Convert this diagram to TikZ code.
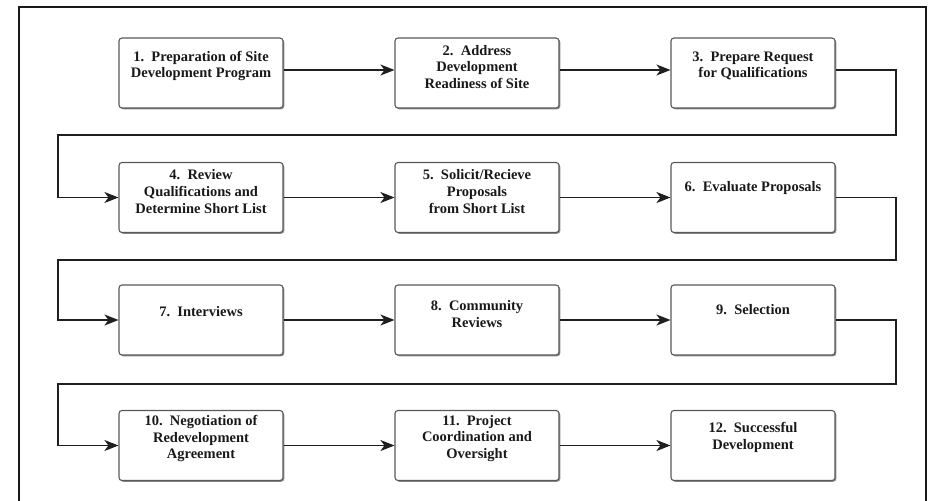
\documentclass[tikz,border=0pt]{standalone}
\usepackage{fontspec}
\setmainfont{Liberation Serif}
\usetikzlibrary{arrows.meta,shadows,calc}
\begin{document}
\begin{tikzpicture}[x=1pt,y=-1pt,
  stepbox/.style={draw=black!65, line width=1.1pt, rounded corners=3pt, fill=white,
    minimum width=164pt, minimum height=70pt, inner sep=0pt,
    drop shadow={shadow xshift=1.3pt, shadow yshift=-1.3pt, opacity=0.45, fill=black}},
  steptext/.style={font=\bfseries\fontsize{14.5}{16.7}\selectfont, align=center,
    inner sep=0pt, text=black!90},
  link/.style={draw=black!88, line width=1.9pt, line join=miter},
  flow/.style={link, -{Stealth[length=14pt,width=11pt,inset=4pt]}},
  frame/.style={draw=black!90, line width=2pt}]
\useasboundingbox (0,0) rectangle (933,500);
\draw[frame] (19,501) -- (19,7) -- (926,7) -- (926,501);

% boxes
\node[stepbox] (b1)  at (201,73)    {};
\node[stepbox] (b2)  at (477,73)    {};
\node[stepbox] (b3)  at (753,73)    {};
\node[stepbox] (b4)  at (201,197.5) {};
\node[stepbox] (b5)  at (477,197.5) {};
\node[stepbox] (b6)  at (753,197.5) {};
\node[stepbox] (b7)  at (201,320)   {};
\node[stepbox] (b8)  at (477,320)   {};
\node[stepbox] (b9)  at (753,320)   {};
\node[stepbox] (b10) at (201,445.5) {};
\node[stepbox] (b11) at (477,445.5) {};
\node[stepbox] (b12) at (753,445.5) {};

% texts
\node[steptext] (t1)  at ([yshift=7pt]b1.center)  {1.\ \ Preparation of Site\\Development Program};
\node[steptext] (t2)  at ([yshift=6pt]b2.center)  {2.\ \ Address\\Development\\Readiness of Site};
\node[steptext] (t3)  at ([yshift=7pt]b3.center)  {3.\ \ Prepare Request\\for Qualifications};
\node[steptext] (t4)  at ([yshift=6pt]b4.center)  {4.\ \ Review\\Qualifications and\\Determine Short List};
\node[steptext] (t5)  at ([yshift=6pt]b5.center)  {5.\ \ Solicit/Recieve\\Proposals\\from Short List};
\node[steptext] (t6)  at ([yshift=9pt]b6.center)  {6.\ \ Evaluate Proposals};
\node[steptext] (t7)  at ([yshift=8pt]b7.center)  {7.\ \ Interviews};
\node[steptext] (t8)  at ([yshift=6pt]b8.center)  {8.\ \ Community\\Reviews};
\node[steptext] (t9)  at ([yshift=10pt]b9.center) {9.\ \ Selection};
\node[steptext] (t10) at ([yshift=7pt]b10.center) {10.\ \ Negotiation of\\Redevelopment\\Agreement};
\node[steptext] (t11) at ([yshift=7pt]b11.center) {11.\ \ Project\\Coordination and\\Oversight};
\node[steptext] (t12) at ([yshift=8pt]b12.center) {12.\ \ Successful\\Development};

% turn points
\coordinate (r1) at (896,135);
\coordinate (l1) at (58,135);
\coordinate (r2) at (896,260);
\coordinate (l2) at (58,260);
\coordinate (r3) at (896,384);
\coordinate (l3) at (58,384);

% connectors
\draw[flow] ([yshift=3pt]b1.east) -- ([yshift=3pt]b2.west);
\draw[flow] ([yshift=3pt]b2.east) -- ([yshift=3pt]b3.west);
\draw[flow] ([yshift=3pt]b3.east) -| (r1) -- (l1) |- (b4.west);
\draw[flow] (b4.east) -- (b5.west);
\draw[flow] (b5.east) -- (b6.west);
\draw[flow] (b6.east) -| (r2) -- (l2) |- (b7.west);
\draw[flow] (b7.east) -- (b8.west);
\draw[flow] (b8.east) -- (b9.west);
\draw[flow] (b9.east) -| (r3) -- (l3) |- (b10.west);
\draw[flow] (b10.east) -- (b11.west);
\draw[flow] (b11.east) -- (b12.west);
\end{tikzpicture}
\end{document}
